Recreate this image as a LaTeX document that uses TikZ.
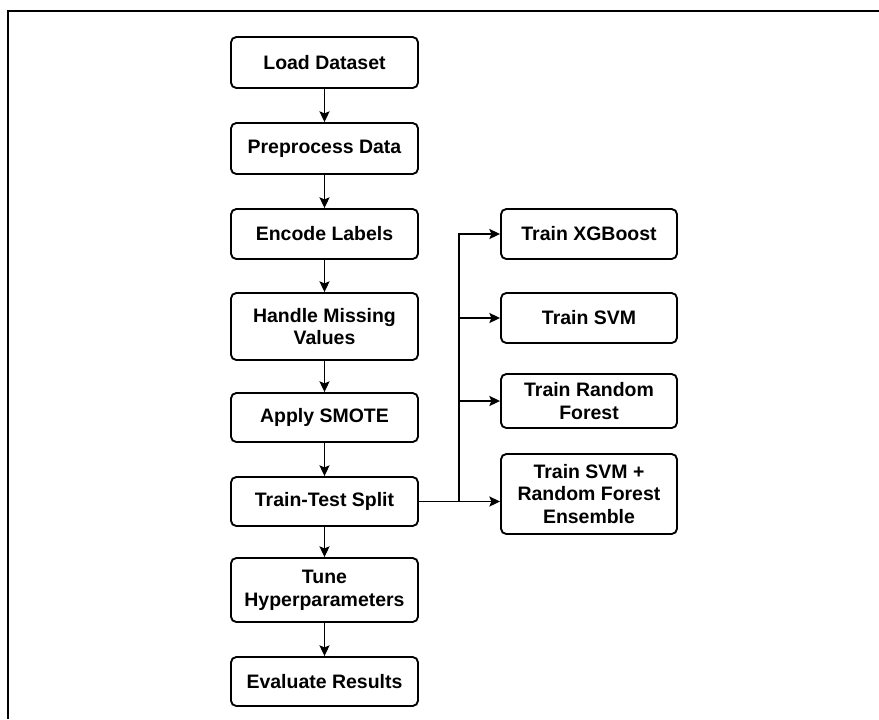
\documentclass[tikz,border=0pt]{standalone}
\usepackage{fontspec}
\setmainfont{Liberation Sans}
\usetikzlibrary{arrows.meta,calc}

\tikzset{
  stagebox/.style={draw,line width=1.4pt,rounded corners=4pt,align=center,
    inner sep=0pt,font=\bfseries\fontsize{14.6}{17.2}\selectfont},
  leftbox/.style={stagebox,minimum width=140.25pt},
  rightbox/.style={stagebox,minimum width=132pt},
  flow/.style={line width=1.4pt,-{Stealth[length=8pt,width=7.5pt,inset=1.5pt]}}
}

\begin{document}
\begin{tikzpicture}[x=0.75pt,y=-0.75pt]
  \useasboundingbox (0,0) rectangle (879,719);
  % cadre
  \draw [line width=1.5pt] (879,11) -- (8,11) -- (8,719);
  % colonne de gauche
  \node [leftbox,minimum height=38.25pt] (load)  at (324.5,62.5)  {Load Dataset};
  \node [leftbox,minimum height=38.25pt] (prep)  at (324.5,148.5) {Preprocess Data};
  \node [leftbox,minimum height=37.5pt]  (enc)   at (324.5,234)   {Encode Labels};
  \node [leftbox,minimum height=50.25pt] (miss)  at (324.5,326.5) {Handle Missing\\Values};
  \node [leftbox,minimum height=36.75pt] (smote) at (324.5,417.5) {Apply SMOTE};
  \node [leftbox,minimum height=36.75pt] (split) at (324.5,501.5) {Train-Test Split};
  \node [leftbox,minimum height=48pt]    (tune)  at (324.5,590)   {Tune\\Hyperparameters};
  \node [leftbox,minimum height=36.75pt] (eval)  at (324.5,681.5) {Evaluate Results};
  % modèles
  \node [rightbox,minimum height=37.5pt] (xgb) at (589,234) {Train XGBoost};
  \node [rightbox,minimum height=37.5pt] (svm) at (589,318) {Train SVM};
  \node [rightbox,minimum height=40.5pt] (rf)  at (589,401) {Train Random\\Forest};
  \node [rightbox,minimum height=60pt]   (ens) at (589,494) {Train SVM +\\Random Forest\\Ensemble};
  % flèches
  \foreach \a/\b in {load/prep,prep/enc,enc/miss,miss/smote,smote/split,split/tune,tune/eval}
    \draw [flow] (\a) -- (\b);
  \coordinate (fork) at (459,0);
  \draw [flow] (split.east) -- (split.east -| ens.west);
  \draw [flow] (fork |- split.east) |- (xgb.west);
  \draw [flow] (fork |- svm.west) -- (svm.west);
  \draw [flow] (fork |- rf.west) -- (rf.west);
\end{tikzpicture}
\end{document}
